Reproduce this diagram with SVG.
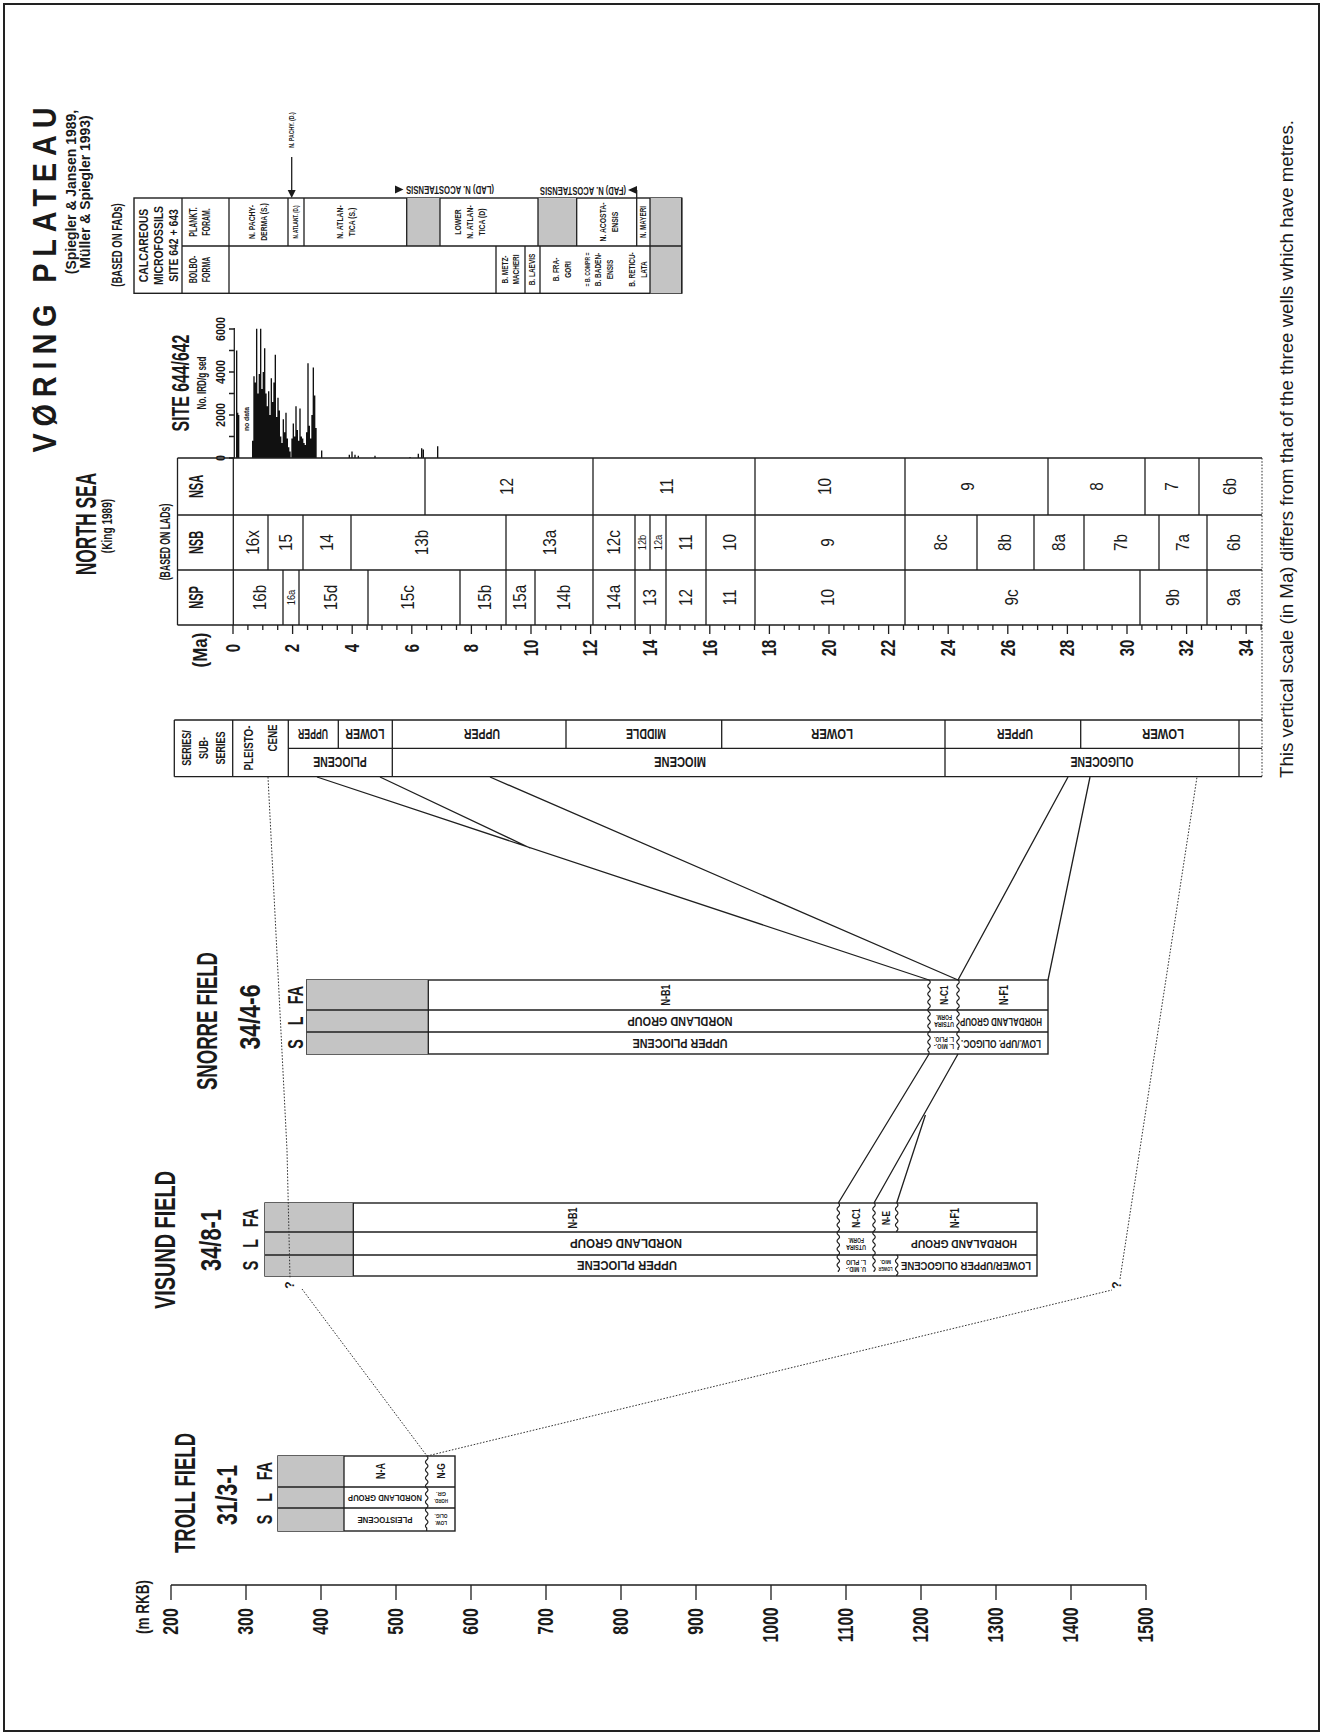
<svg xmlns="http://www.w3.org/2000/svg" width="1324" height="1736" viewBox="0 0 1324 1736">
<style>
text{font-family:"Liberation Sans",Arial,sans-serif;text-anchor:middle;dominant-baseline:central;fill:#1a1a1a}
.b{font-weight:bold}
.ln{stroke:#1f1f1f;stroke-width:1.3;fill:none}
.bx{stroke:#1f1f1f;stroke-width:1.4;fill:#fff}
.gr{fill:#c4c4c4}
.dot{stroke:#333;stroke-width:1;stroke-dasharray:1.6 1.6;fill:none}
.wv{stroke:#1f1f1f;stroke-width:1.2;fill:none}
.bar{stroke:#111;stroke-width:1.35;fill:none}
</style>
<rect width="1324" height="1736" fill="#fff"/>
<rect x="4" y="4" width="1315" height="1727" fill="none" stroke="#222" stroke-width="2"/>

<g id="title">
<text class="b" font-size="34" textLength="406" lengthAdjust="spacing" transform="translate(44,280) rotate(-90) scale(.85,1)">VØRING PLATEAU</text>
<text class="b" font-size="15.5" transform="translate(71,192) rotate(-90) scale(.9,1)">(Spiegler &amp; Jansen 1989,</text>
<text class="b" font-size="15.5" transform="translate(85,192) rotate(-90) scale(.9,1)">Müller &amp; Spiegler 1993)</text>
<text class="b" font-size="14" transform="translate(117,245) rotate(-90) scale(.68,1)">(BASED ON FADs)</text>
</g>

<g id="calcareous-table">
<rect x="134" y="198" width="547.7" height="95.3" class="bx"/>
<rect x="406.7" y="198" width="33.3" height="48" class="gr"/>
<rect x="538" y="198" width="38.7" height="48" class="gr"/>
<rect x="650" y="198" width="31.7" height="95.3" class="gr"/>
<path class="ln" d="M182 198V293.3M229 198V293.3M182 246H681.7M288 198V246M304 198V246M406.7 198V246M440 198V246M538 198V246M576.7 198V246M636.7 190V246M650 198V293.3M496 246V293.3M525 246V293.3M540 246V293.3M681.7 198V293.3"/>
<text class="b" font-size="13" transform="translate(143,245.5) rotate(-90) scale(.8,1)">CALCAREOUS</text>
<text class="b" font-size="13" transform="translate(158,245.5) rotate(-90) scale(.8,1)">MICROFOSSILS</text>
<text class="b" font-size="13" transform="translate(173,245.5) rotate(-90) scale(.8,1)">SITE 642 + 643</text>
<text class="b" font-size="10" transform="translate(194,222) rotate(-90) scale(.7,1)">PLANKT.</text>
<text class="b" font-size="10" transform="translate(207,222) rotate(-90) scale(.7,1)">FORAM.</text>
<text class="b" font-size="10" transform="translate(194,269.5) rotate(-90) scale(.7,1)">BOLBO-</text>
<text class="b" font-size="10" transform="translate(207,269.5) rotate(-90) scale(.7,1)">FORMA</text>
<text class="b" font-size="9.5" transform="translate(252,222) rotate(-90) scale(.72,1)">N. PACHY-</text>
<text class="b" font-size="9.5" transform="translate(264,222) rotate(-90) scale(.72,1)">DERMA (S.)</text>
<text class="b" font-size="6.5" transform="translate(296,222) rotate(-90) scale(.7,1)">N. ATLANT. (D.)</text>
<text class="b" font-size="9.5" transform="translate(340,222) rotate(-90) scale(.72,1)">N. ATLAN-</text>
<text class="b" font-size="9.5" transform="translate(352,222) rotate(-90) scale(.72,1)">TICA (S.)</text>
<text class="b" font-size="9.5" transform="translate(458,222) rotate(-90) scale(.72,1)">LOWER</text>
<text class="b" font-size="9.5" transform="translate(470,222) rotate(-90) scale(.72,1)">N. ATLAN-</text>
<text class="b" font-size="9.5" transform="translate(482,222) rotate(-90) scale(.72,1)">TICA (D)</text>
<text class="b" font-size="9.5" transform="translate(603,222) rotate(-90) scale(.72,1)">N. ACOSTA-</text>
<text class="b" font-size="9.5" transform="translate(615,222) rotate(-90) scale(.72,1)">ENSIS</text>
<text class="b" font-size="9" transform="translate(643.5,222) rotate(-90) scale(.7,1)">N. MAYERI</text>
<text class="b" font-size="9" transform="translate(505,269.5) rotate(-90) scale(.72,1)">B. METZ-</text>
<text class="b" font-size="9" transform="translate(516,269.5) rotate(-90) scale(.72,1)">MACHERI</text>
<text class="b" font-size="9" transform="translate(532.5,269.5) rotate(-90) scale(.72,1)">B. LAEVIS</text>
<text class="b" font-size="9" transform="translate(556,269.5) rotate(-90) scale(.72,1)">B. FRA-</text>
<text class="b" font-size="9" transform="translate(568,269.5) rotate(-90) scale(.72,1)">GORI</text>
<text class="b" font-size="7" transform="translate(587,269.5) rotate(-90) scale(.72,1)">= B. COMPR =</text>
<text class="b" font-size="9" transform="translate(598,269.5) rotate(-90) scale(.72,1)">B. BADEN-</text>
<text class="b" font-size="9" transform="translate(610,269.5) rotate(-90) scale(.72,1)">ENSIS</text>
<text class="b" font-size="9" transform="translate(632,269.5) rotate(-90) scale(.72,1)">B. RETICU-</text>
<text class="b" font-size="9" transform="translate(644,269.5) rotate(-90) scale(.72,1)">LATA</text>
<path class="ln" d="M291.7 157V191"/>
<polygon points="287.7,190 295.7,190 291.7,198" fill="#1a1a1a"/>
<text class="b" font-size="6.5" transform="translate(292,130) rotate(-90) scale(.8,1)">N. PACHY. (D.)</text>
<polygon points="395,185.5 395,193.5 403.5,189.5" fill="#1a1a1a"/>
<text class="b" font-size="10" textLength="88" lengthAdjust="spacingAndGlyphs" transform="translate(450,189) rotate(180)">(LAD) N. ACOSTAENSIS</text>
<polygon points="628,190 637,186 637,194" fill="#1a1a1a"/>
<text class="b" font-size="10" textLength="86" lengthAdjust="spacingAndGlyphs" transform="translate(583,190) rotate(180)">(FAD) N. ACOSTAENSIS</text>
</g>

<g id="ird-chart">
<path class="ln" d="M234.3 328V458M229 458H234.3M229 436.5H234.3M229 415H234.3M229 393.5H234.3M229 372H234.3M229 350.5H234.3M229 329H234.3"/>
<text class="b" font-size="12" transform="translate(221,458) rotate(-90) scale(.9,1)">0</text>
<text class="b" font-size="12" transform="translate(221,415) rotate(-90) scale(.9,1)">2000</text>
<text class="b" font-size="12" transform="translate(221,372) rotate(-90) scale(.9,1)">4000</text>
<text class="b" font-size="12" transform="translate(221,329) rotate(-90) scale(.9,1)">6000</text>
<text class="b" font-size="24" transform="translate(181,383) rotate(-90) scale(.66,1)">SITE 644/642</text>
<text class="b" font-size="12" transform="translate(201.5,383) rotate(-90) scale(.68,1)">No. IRD/g sed</text>
<text class="b" font-size="8" transform="translate(246,419) rotate(-90) scale(.85,1)">no data</text>
<path class="bar" d="M236.67 458V350.4M237.67 458V412.8M238.67 458V414.9M252.67 458V440.8M254 458V376.2M255.33 458V382.6M256.67 458V328.8M258 458V393.4M259.33 458V374M260.67 458V328.8M262 458V389.1M263.33 458V371.9M264.67 458V348.2M266 458V393.4M267.33 458V406.3M268.67 458V391.3M270 458V414.9M271.33 458V378.3M272.67 458V402M274 458V382.6M275.33 458V354.7M276.67 458V417.1M278 458V397.7M279.33 458V410.6M280.67 458V436.5M282 458V442.9M283.33 458V419.2M284.67 458V432.2M286 458V412.8M287.33 458V438.6M288.67 458V447.2M290 458V451.5M292 458V438.6M293.33 458V423.6M294.67 458V436.5M296 458V406.3M297.33 458V430M298.67 458V440.8M300 458V408.5M301.33 458V436.5M302.67 458V438.6M304 458V442.9M305.33 458V445.1M306.67 458V432.2M308 458V363.3M309.33 458V425.7M310.67 458V438.6M312 458V414.9M313.33 458V367.6M314.67 458V395.6M316 458V427.9M321.67 458V450.5M349.33 458V454.8M352 458V451.5M355 458V454.8M358.33 458V455.8M375 458V455.8M410 458V457M418.33 458V453.7M421.67 458V448.3M423.33 458V449.4M437.67 458V446.2"/>
</g>

<g id="north-sea-header">
<text class="b" font-size="30" transform="translate(86,524) rotate(-90) scale(.58,1)">NORTH SEA</text>
<text class="b" font-size="14" transform="translate(107,526) rotate(-90) scale(.72,1)">(King 1989)</text>
<text class="b" font-size="14" transform="translate(164.5,542) rotate(-90) scale(.62,1)">(BASED ON LADs)</text>
</g>

<g id="north-sea-table">
<path class="ln" d="M177.5 458H1262M177.5 515H1262M177.5 570H1262M177.5 625H1262M177.5 458V625M233.3 458V625"/>
<path class="dot" d="M1262 458V777"/>
<path class="ln" d="M425 458V515M593 458V515M755 458V515M905 458V515M1048 458V515M1145 458V515M1199 458V515"/>
<path class="ln" d="M268 515V570M303 515V570M351 515V570M506 515V570M593 515V570M635 515V570M650 515V570M666 515V570M706 515V570M755 515V570M905 515V570M977 515V570M1034 515V570M1084 515V570M1159 515V570M1207 515V570"/>
<path class="ln" d="M283 570V625M299 570V625M368 570V625M460 570V625M506 570V625M535 570V625M593 570V625M635 570V625M666 570V625M706 570V625M755 570V625M905 570V625M1140 570V625M1207 570V625"/>
<text class="b" font-size="20" transform="translate(196,486.5) rotate(-90) scale(.55,1)">NSA</text>
<text class="b" font-size="20" transform="translate(196,542.5) rotate(-90) scale(.55,1)">NSB</text>
<text class="b" font-size="20" transform="translate(196,597.5) rotate(-90) scale(.55,1)">NSP</text>
<g font-size="18">
<text transform="translate(507,486.5) rotate(-90) scale(.85,1)">12</text>
<text transform="translate(667,486.5) rotate(-90) scale(.85,1)">11</text>
<text transform="translate(825,486.5) rotate(-90) scale(.85,1)">10</text>
<text transform="translate(968,486.5) rotate(-90) scale(.85,1)">9</text>
<text transform="translate(1097,486.5) rotate(-90) scale(.85,1)">8</text>
<text transform="translate(1172,486.5) rotate(-90) scale(.85,1)">7</text>
<text transform="translate(1230,486.5) rotate(-90) scale(.85,1)">6b</text>
<text transform="translate(253,542.5) rotate(-90) scale(.85,1)">16x</text>
<text transform="translate(286,542.5) rotate(-90) scale(.85,1)">15</text>
<text transform="translate(327,542.5) rotate(-90) scale(.85,1)">14</text>
<text transform="translate(422,542.5) rotate(-90) scale(.85,1)">13b</text>
<text transform="translate(550,542.5) rotate(-90) scale(.85,1)">13a</text>
<text transform="translate(614,542.5) rotate(-90) scale(.85,1)">12c</text>
<text font-size="11" transform="translate(642.5,542.5) rotate(-90) scale(.85,1)">12b</text>
<text font-size="11" transform="translate(658,542.5) rotate(-90) scale(.85,1)">12a</text>
<text transform="translate(686,542.5) rotate(-90) scale(.85,1)">11</text>
<text transform="translate(730.5,542.5) rotate(-90) scale(.85,1)">10</text>
<text transform="translate(828,542.5) rotate(-90) scale(.85,1)">9</text>
<text transform="translate(941,542.5) rotate(-90) scale(.85,1)">8c</text>
<text transform="translate(1005.5,542.5) rotate(-90) scale(.85,1)">8b</text>
<text transform="translate(1059,542.5) rotate(-90) scale(.85,1)">8a</text>
<text transform="translate(1121.5,542.5) rotate(-90) scale(.85,1)">7b</text>
<text transform="translate(1183,542.5) rotate(-90) scale(.85,1)">7a</text>
<text transform="translate(1234.5,542.5) rotate(-90) scale(.85,1)">6b</text>
<text transform="translate(260,597.5) rotate(-90) scale(.85,1)">16b</text>
<text font-size="11" transform="translate(291,597.5) rotate(-90) scale(.85,1)">16a</text>
<text transform="translate(331,597.5) rotate(-90) scale(.85,1)">15d</text>
<text transform="translate(408,597.5) rotate(-90) scale(.85,1)">15c</text>
<text transform="translate(485,597.5) rotate(-90) scale(.85,1)">15b</text>
<text transform="translate(520.5,597.5) rotate(-90) scale(.85,1)">15a</text>
<text transform="translate(564,597.5) rotate(-90) scale(.85,1)">14b</text>
<text transform="translate(614,597.5) rotate(-90) scale(.85,1)">14a</text>
<text transform="translate(650.5,597.5) rotate(-90) scale(.85,1)">13</text>
<text transform="translate(686,597.5) rotate(-90) scale(.85,1)">12</text>
<text transform="translate(730.5,597.5) rotate(-90) scale(.85,1)">11</text>
<text transform="translate(828,597.5) rotate(-90) scale(.85,1)">10</text>
<text transform="translate(1012,597.5) rotate(-90) scale(.85,1)">9c</text>
<text transform="translate(1173.5,597.5) rotate(-90) scale(.85,1)">9b</text>
<text transform="translate(1234.5,597.5) rotate(-90) scale(.85,1)">9a</text>
</g>
</g>

<g id="ma-axis">
<path class="ln" d="M233 625v9M247.9 625v5M262.8 625v5M277.7 625v5M292.6 625v9M307.5 625v5M322.4 625v5M337.3 625v5M352.2 625v9M367.1 625v5M382 625v5M396.9 625v5M411.8 625v9M426.7 625v5M441.6 625v5M456.5 625v5M471.4 625v9M486.3 625v5M501.2 625v5M516.1 625v5M531 625v9M545.9 625v5M560.8 625v5M575.7 625v5M590.6 625v9M605.5 625v5M620.4 625v5M635.3 625v5M650.2 625v9M665.1 625v5M680 625v5M694.9 625v5M709.8 625v9M724.7 625v5M739.6 625v5M754.5 625v5M769.4 625v9M784.3 625v5M799.2 625v5M814.1 625v5M829 625v9M843.9 625v5M858.8 625v5M873.7 625v5M888.6 625v9M903.5 625v5M918.4 625v5M933.3 625v5M948.2 625v9M963.1 625v5M978 625v5M992.9 625v5M1007.8 625v9M1022.7 625v5M1037.6 625v5M1052.5 625v5M1067.4 625v9M1082.3 625v5M1097.2 625v5M1112.1 625v5M1127 625v9M1141.9 625v5M1156.8 625v5M1171.7 625v5M1186.6 625v9M1201.5 625v5M1216.4 625v5M1231.3 625v5M1246.2 625v9M1261.1 625v5"/>
<text class="b" font-size="20" transform="translate(200,650) rotate(-90) scale(.85,1)">(Ma)</text>
<g class="b" font-size="20">
<text transform="translate(233,648) rotate(-90) scale(.75,1)">0</text>
<text transform="translate(292.6,648) rotate(-90) scale(.75,1)">2</text>
<text transform="translate(352.2,648) rotate(-90) scale(.75,1)">4</text>
<text transform="translate(411.8,648) rotate(-90) scale(.75,1)">6</text>
<text transform="translate(471.4,648) rotate(-90) scale(.75,1)">8</text>
<text transform="translate(531,648) rotate(-90) scale(.75,1)">10</text>
<text transform="translate(590.6,648) rotate(-90) scale(.75,1)">12</text>
<text transform="translate(650.2,648) rotate(-90) scale(.75,1)">14</text>
<text transform="translate(709.8,648) rotate(-90) scale(.75,1)">16</text>
<text transform="translate(769.4,648) rotate(-90) scale(.75,1)">18</text>
<text transform="translate(829,648) rotate(-90) scale(.75,1)">20</text>
<text transform="translate(888.6,648) rotate(-90) scale(.75,1)">22</text>
<text transform="translate(948.2,648) rotate(-90) scale(.75,1)">24</text>
<text transform="translate(1007.8,648) rotate(-90) scale(.75,1)">26</text>
<text transform="translate(1067.4,648) rotate(-90) scale(.75,1)">28</text>
<text transform="translate(1127,648) rotate(-90) scale(.75,1)">30</text>
<text transform="translate(1186.6,648) rotate(-90) scale(.75,1)">32</text>
<text transform="translate(1246.2,648) rotate(-90) scale(.75,1)">34</text>
</g>
</g>

<g id="series-column">
<path class="ln" d="M174.3 720H1262M174.3 776.7H1262M174.3 720V776.7M288.3 748.3H1262M232.7 720V776.7M288.3 720V776.7M392.3 720V776.7M945 720V776.7M1239 720V776.7M338.3 720V748.3M566 720V748.3M721.7 720V748.3M1080.7 720V748.3"/>
<text class="b" font-size="12" transform="translate(186,748) rotate(-90) scale(.75,1)">SERIES/</text>
<text class="b" font-size="12" transform="translate(203,748) rotate(-90) scale(.75,1)">SUB-</text>
<text class="b" font-size="12" transform="translate(220,748) rotate(-90) scale(.75,1)">SERIES</text>
<text class="b" font-size="13" transform="translate(248,748) rotate(-90) scale(.75,1)">PLEISTO-</text>
<text class="b" font-size="13" transform="translate(272,738) rotate(-90) scale(.75,1)">CENE</text>
<g class="b" font-size="15">
<text transform="translate(313,734) rotate(180) scale(.58,1)">UPPER</text>
<text transform="translate(365,734) rotate(180) scale(.7,1)">LOWER</text>
<text transform="translate(340,762.5) rotate(180) scale(.7,1)">PLIOCENE</text>
<text transform="translate(482,734) rotate(180) scale(.7,1)">UPPER</text>
<text transform="translate(646,734) rotate(180) scale(.7,1)">MIDDLE</text>
<text transform="translate(832,734) rotate(180) scale(.75,1)">LOWER</text>
<text transform="translate(680,762.5) rotate(180) scale(.74,1)">MIOCENE</text>
<text transform="translate(1015,734) rotate(180) scale(.7,1)">UPPER</text>
<text transform="translate(1163,734) rotate(180) scale(.75,1)">LOWER</text>
<text transform="translate(1102,762.5) rotate(180) scale(.7,1)">OLIGOCENE</text>
</g>
</g>

<g id="snorre-well">
<rect x="306.7" y="980" width="741.3" height="74" class="bx"/>
<rect x="306.7" y="980" width="121.6" height="74" class="gr"/>
<path class="ln" d="M306.7 1010H1048M306.7 1032H1048M428.3 980V1054"/>
<path class="wv" d="M929 980q2.5 2 0 4t0 4t0 4t0 4t0 4t0 4t0 4t0 4t0 4t0 4t0 4t0 4t0 4t0 4t0 4t0 4t0 4t0 4l0 2M958 980q2.5 2 0 4t0 4t0 4t0 4t0 4t0 4t0 4t0 4t0 4t0 4t0 4t0 4t0 4t0 4t0 4t0 4t0 4l0 2"/>
<text class="b" font-size="29" textLength="138" lengthAdjust="spacingAndGlyphs" transform="translate(207,1021) rotate(-90)">SNORRE FIELD</text>
<text class="b" font-size="30" textLength="65" lengthAdjust="spacingAndGlyphs" transform="translate(249,1017) rotate(-90)">34/4-6</text>
<text class="b" font-size="22" transform="translate(295,1044) rotate(-90) scale(.65,1)">S</text>
<text class="b" font-size="22" transform="translate(295,1021) rotate(-90) scale(.65,1)">L</text>
<text class="b" font-size="22" transform="translate(295,995) rotate(-90) scale(.65,1)">FA</text>
<text class="b" font-size="12" transform="translate(665,995) rotate(-90) scale(.75,1)">N-B1</text>
<text class="b" font-size="13" textLength="105" lengthAdjust="spacingAndGlyphs" transform="translate(680,1021) rotate(180)">NORDLAND GROUP</text>
<text class="b" font-size="13" textLength="95" lengthAdjust="spacingAndGlyphs" transform="translate(680,1043) rotate(180)">UPPER PLIOCENE</text>
<text class="b" font-size="11" transform="translate(944,995) rotate(-90) scale(.75,1)">N-C1</text>
<text class="b" font-size="6.5" textLength="20" lengthAdjust="spacingAndGlyphs" transform="translate(944,1024.5) rotate(180)">UTSIRA</text>
<text class="b" font-size="6.5" textLength="16" lengthAdjust="spacingAndGlyphs" transform="translate(944,1017.5) rotate(180)">FORM.</text>
<text class="b" font-size="6.5" textLength="20" lengthAdjust="spacingAndGlyphs" transform="translate(944,1046.5) rotate(180)">L. MIO.-</text>
<text class="b" font-size="6.5" textLength="20" lengthAdjust="spacingAndGlyphs" transform="translate(944,1039.5) rotate(180)">L. PLIO.</text>
<text class="b" font-size="12" transform="translate(1003,995) rotate(-90) scale(.75,1)">N-F1</text>
<text class="b" font-size="10" textLength="82" lengthAdjust="spacingAndGlyphs" transform="translate(1001,1021) rotate(180)">HORDALAND GROUP</text>
<text class="b" font-size="10" textLength="80" lengthAdjust="spacingAndGlyphs" transform="translate(1001,1043) rotate(180)">LOW./UPP. OLIGOC.</text>
</g>

<g id="visund-well">
<rect x="265" y="1203" width="772" height="73" class="bx"/>
<rect x="265" y="1203" width="88.3" height="73" class="gr"/>
<path class="ln" d="M265 1232H1037M265 1255H1037M353.3 1203V1276"/>
<path class="wv" d="M838.3 1203q2.5 2 0 4t0 4t0 4t0 4t0 4t0 4t0 4t0 4t0 4t0 4t0 4t0 4t0 4t0 4t0 4t0 4t0 4l0 1M874 1203q2.5 2 0 4t0 4t0 4t0 4t0 4t0 4t0 4t0 4t0 4t0 4t0 4t0 4t0 4t0 4t0 4t0 4t0 4l0 1M896.7 1203q2.5 2 0 4t0 4t0 4t0 4t0 4t0 4t0 4l0 1M896.7 1255q2.5 2 0 4t0 4t0 4t0 4t0 4l0 1"/>
<text class="b" font-size="29" textLength="138" lengthAdjust="spacingAndGlyphs" transform="translate(165,1240) rotate(-90)">VISUND FIELD</text>
<text class="b" font-size="30" textLength="62" lengthAdjust="spacingAndGlyphs" transform="translate(210,1240) rotate(-90)">34/8-1</text>
<text class="b" font-size="22" transform="translate(250,1265.5) rotate(-90) scale(.65,1)">S</text>
<text class="b" font-size="22" transform="translate(250,1243.5) rotate(-90) scale(.65,1)">L</text>
<text class="b" font-size="22" transform="translate(250,1218) rotate(-90) scale(.65,1)">FA</text>
<text class="b" font-size="12" transform="translate(572,1218) rotate(-90) scale(.75,1)">N-B1</text>
<text class="b" font-size="13" textLength="112" lengthAdjust="spacingAndGlyphs" transform="translate(626,1243.5) rotate(180)">NORDLAND GROUP</text>
<text class="b" font-size="13" textLength="100" lengthAdjust="spacingAndGlyphs" transform="translate(627,1265.5) rotate(180)">UPPER PLIOCENE</text>
<text class="b" font-size="11" transform="translate(856,1218) rotate(-90) scale(.75,1)">N-C1</text>
<text class="b" font-size="6.5" textLength="20" lengthAdjust="spacingAndGlyphs" transform="translate(856,1247) rotate(180)">UTSIRA</text>
<text class="b" font-size="6.5" textLength="16" lengthAdjust="spacingAndGlyphs" transform="translate(856,1240) rotate(180)">FORM.</text>
<text class="b" font-size="6.5" textLength="20" lengthAdjust="spacingAndGlyphs" transform="translate(856,1269) rotate(180)">U. MID.-</text>
<text class="b" font-size="6.5" textLength="20" lengthAdjust="spacingAndGlyphs" transform="translate(856,1262) rotate(180)">L. PLIO</text>
<text class="b" font-size="11" transform="translate(886,1218) rotate(-90) scale(.75,1)">N-E</text>
<text class="b" font-size="6" textLength="14" lengthAdjust="spacingAndGlyphs" transform="translate(885.5,1269) rotate(180)">LOWER</text>
<text class="b" font-size="6" textLength="11" lengthAdjust="spacingAndGlyphs" transform="translate(885.5,1262) rotate(180)">MIO.</text>
<text class="b" font-size="12" transform="translate(954,1218) rotate(-90) scale(.75,1)">N-F1</text>
<text class="b" font-size="11" textLength="106" lengthAdjust="spacingAndGlyphs" transform="translate(964,1243.5) rotate(180)">HORDALAND GROUP</text>
<text class="b" font-size="11" textLength="130" lengthAdjust="spacingAndGlyphs" transform="translate(966,1265.5) rotate(180)">LOWER/UPPER OLIGOCENE</text>
</g>

<g id="troll-well">
<rect x="278" y="1456" width="177" height="75" class="bx"/>
<rect x="278" y="1456" width="66" height="75" class="gr"/>
<path class="ln" d="M278 1487H455M278 1508H455M344 1456V1531"/>
<path class="wv" d="M426.7 1456q2.5 2 0 4t0 4t0 4t0 4t0 4t0 4t0 4t0 4t0 4t0 4t0 4t0 4t0 4t0 4t0 4t0 4t0 4t0 4l0 3"/>
<text class="b" font-size="29" textLength="120" lengthAdjust="spacingAndGlyphs" transform="translate(185,1493) rotate(-90)">TROLL FIELD</text>
<text class="b" font-size="30" textLength="60" lengthAdjust="spacingAndGlyphs" transform="translate(226,1495) rotate(-90)">31/3-1</text>
<text class="b" font-size="22" transform="translate(264,1519.5) rotate(-90) scale(.65,1)">S</text>
<text class="b" font-size="22" transform="translate(264,1497.5) rotate(-90) scale(.65,1)">L</text>
<text class="b" font-size="22" transform="translate(264,1471) rotate(-90) scale(.65,1)">FA</text>
<text class="b" font-size="12" transform="translate(380,1471) rotate(-90) scale(.75,1)">N-A</text>
<text class="b" font-size="9" textLength="74" lengthAdjust="spacingAndGlyphs" transform="translate(385,1497.5) rotate(180)">NORDLAND GROUP</text>
<text class="b" font-size="9" textLength="55" lengthAdjust="spacingAndGlyphs" transform="translate(385,1519.5) rotate(180)">PLEISTOCENE</text>
<text class="b" font-size="11" transform="translate(441,1471) rotate(-90) scale(.75,1)">N-G</text>
<text class="b" font-size="6" textLength="14" lengthAdjust="spacingAndGlyphs" transform="translate(441,1501) rotate(180)">HORD.</text>
<text class="b" font-size="6" textLength="10" lengthAdjust="spacingAndGlyphs" transform="translate(441,1494) rotate(180)">GR.</text>
<text class="b" font-size="6" textLength="12" lengthAdjust="spacingAndGlyphs" transform="translate(441,1523) rotate(180)">LOW.</text>
<text class="b" font-size="6" textLength="13" lengthAdjust="spacingAndGlyphs" transform="translate(441,1516) rotate(180)">OLIG.</text>
</g>

<g id="connectors">
<path class="ln" d="M317 777L929 980M380 777L530 848M490 777L958 980M1068 777L958 980M1090 777L1048 980M929 1054L838.3 1203M958 1054L874 1203M925.4 1115L896.7 1203"/>
<path class="dot" d="M268 777L287 1150L290 1278M302 1289L427 1456M427 1456L1112 1290M1120 1279L1197 777"/>
<text class="b" font-size="12" transform="translate(290,1285) rotate(-90)">?</text>
<text class="b" font-size="12" transform="translate(1117,1285) rotate(-90)">?</text>
</g>

<g id="depth-axis">
<path class="ln" d="M171 1585H1146M171 1585v15M246 1585v15M321 1585v15M396 1585v15M471 1585v15M546 1585v15M621 1585v15M696 1585v15M771 1585v15M846 1585v15M921 1585v15M996 1585v15M1071 1585v15M1146 1585v15"/>
<text class="b" font-size="18" transform="translate(143,1607) rotate(-90) scale(.75,1)">(m RKB)</text>
<g class="b" font-size="22">
<text transform="translate(171,1621.5) rotate(-90) scale(.72,1)">200</text>
<text transform="translate(246,1621.5) rotate(-90) scale(.72,1)">300</text>
<text transform="translate(321,1621.5) rotate(-90) scale(.72,1)">400</text>
<text transform="translate(396,1621.5) rotate(-90) scale(.72,1)">500</text>
<text transform="translate(471,1621.5) rotate(-90) scale(.72,1)">600</text>
<text transform="translate(546,1621.5) rotate(-90) scale(.72,1)">700</text>
<text transform="translate(621,1621.5) rotate(-90) scale(.72,1)">800</text>
<text transform="translate(696,1621.5) rotate(-90) scale(.72,1)">900</text>
<text transform="translate(771,1625) rotate(-90) scale(.72,1)">1000</text>
<text transform="translate(846,1625) rotate(-90) scale(.72,1)">1100</text>
<text transform="translate(921,1625) rotate(-90) scale(.72,1)">1200</text>
<text transform="translate(996,1625) rotate(-90) scale(.72,1)">1300</text>
<text transform="translate(1071,1625) rotate(-90) scale(.72,1)">1400</text>
<text transform="translate(1146,1625) rotate(-90) scale(.72,1)">1500</text>
</g>
</g>

<g id="footnote">
<text font-size="18" textLength="658" lengthAdjust="spacingAndGlyphs" transform="translate(1287,449) rotate(-90)">This vertical scale (in Ma) differs from that of the three wells which have metres.</text>
</g>
</svg>
